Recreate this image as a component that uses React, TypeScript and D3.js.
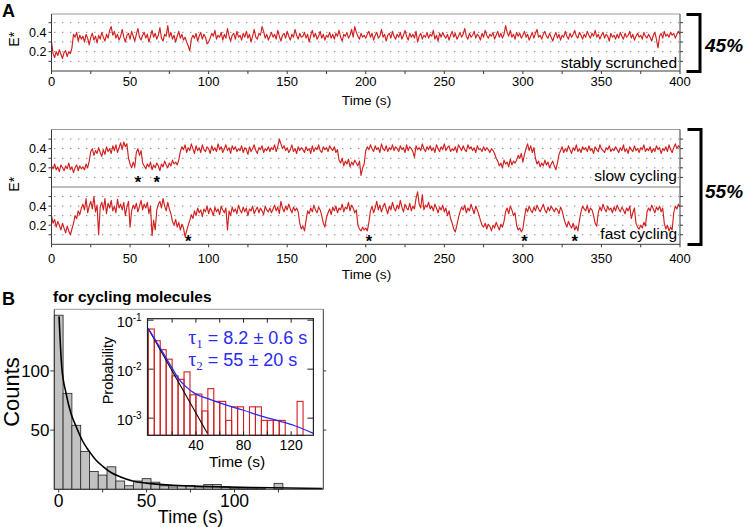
import React from "react";
import * as d3 from "d3";

const SANS = "'Liberation Sans', Arial, Helvetica, sans-serif";
const SERIF = "'Liberation Serif', 'Times New Roman', serif";

// ---------- Panel A data: E* x 100, one value per second (t = 0..400 s) ----------
const stableTrace = [
  30,18,14,20,16,22,17,13,19,21,15,20,18,24,38,35,40,31,37,33,
  36,30,38,34,27,35,39,32,36,29,37,33,40,35,31,38,34,42,46,37,
  41,34,38,32,36,43,35,30,37,39,33,41,36,31,38,44,35,32,37,40,
  34,38,30,36,42,35,39,33,37,45,34,31,38,36,47,35,40,33,37,30,
  36,41,34,38,32,35,30,26,21,33,37,34,39,31,36,40,33,38,35,28,
  30,34,39,36,42,33,37,35,40,32,38,34,44,36,31,37,39,33,41,35,
  37,32,39,35,41,34,38,30,36,43,35,33,39,37,46,41,34,38,32,36,
  40,35,38,33,42,36,31,37,39,34,41,36,32,38,35,43,37,33,39,35,
  36,40,34,38,30,37,42,35,39,33,36,41,34,38,32,37,35,40,34,38,
  33,39,36,42,35,31,38,36,40,34,37,43,35,46,40,36,33,39,35,37,
  34,38,41,35,39,32,37,40,34,36,43,35,38,31,37,39,34,41,36,33,
  38,35,40,33,37,42,36,32,39,35,38,34,41,30,36,39,33,37,35,40,
  34,38,36,42,33,37,31,39,35,40,36,34,38,32,37,41,35,39,33,36,
  40,35,38,44,36,33,39,35,37,41,34,38,36,32,39,35,42,37,34,38,
  36,40,33,37,41,35,39,34,38,47,40,36,42,35,38,33,40,36,39,34,
  37,41,35,38,32,36,40,34,39,43,35,37,33,38,41,36,34,39,35,31,
  36,40,34,38,32,37,35,41,36,33,39,35,38,42,36,34,40,37,33,38,
  35,41,37,34,39,36,42,35,38,33,37,40,34,38,36,31,39,35,37,33,
  38,34,40,36,33,39,35,37,41,34,38,32,36,39,35,37,33,40,36,34,
  38,35,31,37,40,33,24,36,39,34,41,36,38,35,40,37,39,34,38,41,
  38
];
const slowTrace = [
  22,19,24,18,21,16,23,20,17,22,19,25,18,21,15,20,23,17,22,19,
  21,18,24,20,27,37,40,33,38,35,41,36,32,39,34,42,37,40,35,43,
  38,44,36,41,46,39,47,42,45,30,24,20,26,21,36,40,33,38,25,22,
  19,24,21,26,18,23,20,25,22,17,24,21,27,23,20,25,22,28,24,26,
  23,28,37,42,39,44,36,41,38,45,40,35,43,38,41,36,44,39,37,42,
  40,35,43,38,41,37,45,39,42,36,40,44,38,41,35,43,39,42,37,40,
  38,43,36,41,39,34,42,37,40,44,38,35,41,39,43,36,40,38,42,37,
  41,39,44,37,42,50,45,40,43,38,41,36,39,44,37,40,35,42,38,41,
  39,36,42,38,40,35,43,37,41,39,44,38,36,42,39,41,37,43,40,38,
  42,36,39,28,25,30,22,27,24,29,21,26,23,28,25,22,27,12,20,24,
  38,42,39,44,40,37,43,39,41,36,45,40,38,43,37,41,39,44,38,42,
  40,37,43,39,41,36,44,38,42,40,37,31,43,39,41,38,45,40,37,42,
  39,43,38,41,36,44,40,37,42,39,45,38,41,43,37,40,38,42,36,44,
  41,38,43,39,37,44,40,42,38,41,36,43,39,40,37,42,38,41,39,36,
  40,38,35,30,27,22,25,20,28,24,26,21,29,23,27,25,28,33,30,35,
  26,34,40,45,38,43,36,41,30,24,27,21,25,22,28,23,26,20,24,27,
  22,18,25,34,38,42,36,40,37,43,39,35,41,38,44,37,40,36,42,39,
  41,37,43,38,40,35,42,39,37,44,40,38,36,41,39,43,37,40,38,42,
  39,36,41,38,44,37,40,35,42,39,37,43,38,40,36,41,39,44,37,40,
  38,42,36,40,37,43,39,41,35,40,38,42,37,44,39,36,41,45,40,43,
  41
];
const fastTrace = [
  30,22,26,18,24,20,15,22,17,12,19,14,10,16,22,30,27,35,31,38,
  42,36,48,33,40,45,37,50,34,41,10,39,44,36,48,32,43,38,46,35,
  40,33,47,38,42,36,44,30,39,45,18,35,41,37,43,34,40,46,36,42,
  38,44,32,40,9,25,15,36,42,45,38,48,40,35,44,37,32,24,20,26,
  18,23,15,21,17,8,14,20,25,31,27,35,30,38,33,36,29,37,34,40,
  32,38,35,30,39,34,37,31,40,36,33,38,15,35,30,39,34,37,32,41,
  36,33,39,34,38,30,37,35,40,32,36,39,33,38,35,31,40,36,34,38,
  33,37,41,35,39,32,45,38,34,40,36,42,37,33,39,35,38,34,22,16,
  19,14,25,35,32,38,34,41,36,33,39,36,30,22,18,28,33,37,31,39,
  35,40,33,38,36,42,34,39,37,44,35,41,38,33,36,20,16,14,18,15,
  17,14,23,35,40,33,38,45,36,41,34,39,43,37,32,40,36,44,38,35,
  41,37,46,39,34,42,38,36,43,35,40,37,48,55,42,38,52,36,41,39,
  44,37,40,35,42,38,33,39,36,41,34,38,30,35,27,22,16,13,20,28,
  34,39,36,41,33,38,35,42,37,32,40,36,31,25,20,18,22,16,21,19,
  14,20,17,23,19,15,21,18,24,34,38,32,40,36,30,33,20,15,17,13,
  16,28,38,34,40,36,33,39,35,41,37,34,38,42,36,33,39,35,40,37,
  34,38,36,32,39,35,28,22,18,24,20,17,22,15,19,14,25,34,40,37,
  35,41,33,38,36,30,22,19,33,39,35,42,37,34,40,36,38,33,39,35,
  41,37,34,39,36,32,38,35,40,27,33,38,22,18,16,20,17,23,19,34,
  38,35,41,37,33,39,36,40,34,38,22,16,20,14,18,15,33,40,37,42,
  39
];
const slowStars = [55, 67];
const fastStars = [87, 202, 301, 333];
const timeLabels = [0, 50, 100, 150, 200, 250, 300, 350, 400];
const timeMinor = [25, 75, 125, 175, 225, 275, 325, 375];
const eLabels = [20, 40];
const eGrid = [10, 20, 30, 40, 50];

// ---------- Panel B data ----------
const histCenters = [0,5,10,15,20,25,30,35,40,45,50,55,60,65,70,75,80,85,90,95,100,105,110,115,120,125,130,135,140,145];
const histCounts = [147,81,54,32,15,12,19,7,3,7,9,6,3,2,3,3,2,4,4,2,1,1,1,1,0,5,0,0,0,0];
const histFit: [number, number][] = [
  [0.2,146],[1.7,104],[4.2,81],[7,64],[9.9,53],[13.5,41],[17.4,32],[21,25],[25.4,19],
  [30,14],[34.9,10.6],[42,7],[50,5.2],[65,3.4],[85,2.3],[110,1.5],[150,0.7]
];
const histXLabels = [0, 50, 100];
const histXMinor = [25, 75, 125];
const histYLabels = [50, 100];

const insetBinStarts = [0,5,10,15,20,25,30,35,40,45,50,55,60,65,70,75,80,85,90,95,100,105,110,115,120,125,130];
const insetProb = [0.066,0.038,0.025,0.016,0.0073,0.0062,0.0088,0.0030,0.0031,0.0014,0.0040,0.0022,0.0022,0.0009,0.0017,0.0017,0,0.0017,0.0017,0.0009,0.0009,0.0009,0.0009,0,0,0.0022,0];
const blueFit: [number, number][] = [
  [0,0.067],[4,0.047],[8.5,0.031],[14,0.0185],[20,0.0105],[25,0.0066],[32,0.0043],
  [39,0.0032],[50,0.0025],[67,0.0018],[80,0.00145],[95,0.0011],[110,0.00087],[123,0.0007],[138.7,0.00049]
];
const blackFit: [number, number][] = [[0,0.067],[49.6,0.00049]];
const insetXLabels = [40, 80, 120];
const insetXMinor = [20, 60, 100];
const insetYTicks = [1e-1, 1e-2, 1e-3];
const insetYExp = ["-1", "-2", "-3"];

// ---------- styling ----------
const AXIS = "#3a3a3a";
const FRAME = "#9a9a9a";
const RED = "#d21f1f";
const BLUE = "#2b2bf0";

// ---------- scales ----------
const xA = d3.scaleLinear().domain([0, 400]).range([51.5, 680]);
const yStable = d3.scaleLinear().domain([0, 59]).range([71, 14]);
const ySlow = d3.scaleLinear().domain([0, 60]).range([187, 129.5]);
const yFast = d3.scaleLinear().domain([0, 60]).range([244.3, 187]);

const xH = d3.scaleLinear().domain([-2.5, 150.5]).range([54.3, 323.3]);
const yH = d3.scaleLinear().domain([0, 152]).range([489.3, 309.3]);

const xI = d3.scaleLinear().domain([-0.7, 138.7]).range([147.5, 313.4]);
const yI = d3.scaleLog().domain([Math.pow(10, -3.35), Math.pow(10, -0.97)]).range([435.3, 318.7]);

function SubPanel({ id, data, y }: { id: string; data: number[]; y: d3.ScaleLinear<number, number> }) {
  const [y0, y1] = y.range();
  const line = d3.line<number>().x((_, i) => xA(i)).y((d) => y(d));
  return (
    <g>
      <clipPath id={id}>
        <rect x={xA(0)} y={y1} width={xA(400) - xA(0)} height={y0 - y1} />
      </clipPath>
      {eGrid.map((g) => (
        <line key={g} x1={xA(0) + 2.8} x2={xA(400) - 1} y1={y(g)} y2={y(g)}
          stroke="#555" strokeWidth={1} strokeDasharray="1 7" />
      ))}
      <path d={line(data) || ""} fill="none" stroke={RED} strokeWidth={1.15}
        strokeLinejoin="round" clipPath={`url(#${id})`} />
      {eGrid.map((g) => (
        <g key={g}>
          <line x1={xA(0) - 3} x2={xA(0)} y1={y(g)} y2={y(g)} stroke={AXIS} />
          <line x1={xA(400)} x2={xA(400) + 3} y1={y(g)} y2={y(g)} stroke={AXIS} />
        </g>
      ))}
      {eLabels.map((v) => (
        <text key={v} x={46.5} y={y(v)} dy="0.36em" textAnchor="end" fontSize={12.5}>
          {(v / 100).toFixed(1)}
        </text>
      ))}
    </g>
  );
}

function TimeAxis({ yPos, labelY, titleY }: { yPos: number; labelY: number; titleY: number }) {
  return (
    <g>
      <line x1={xA(0)} x2={xA(400)} y1={yPos} y2={yPos} stroke={AXIS} />
      {[...timeLabels, ...timeMinor].map((t) => (
        <line key={t} x1={xA(t)} x2={xA(t)} y1={yPos} y2={yPos + 3} stroke={AXIS} />
      ))}
      {timeLabels.map((t) => (
        <text key={t} x={xA(t)} y={labelY} textAnchor="middle" fontSize={13}>{t}</text>
      ))}
      <text x={366.5} y={titleY} textAnchor="middle" fontSize={13.6}>Time (s)</text>
    </g>
  );
}

export default function App() {
  const fitLine = d3.line<[number, number]>().x((d) => xH(d[0])).y((d) => yH(d[1])).curve(d3.curveMonotoneX);
  const insetLine = d3.line<[number, number]>().x((d) => xI(d[0])).y((d) => yI(d[1])).curve(d3.curveMonotoneX);
  const [iy0, iy1] = yI.range();
  const [ix0, ix1] = xI.range();

  return (
    <svg width={744} height={527} viewBox="0 0 744 527"
      style={{ position: "absolute", left: 0, top: 0, display: "block" }}
      fontFamily={SANS}>
      <rect x={0} y={0} width={744} height={527} fill="#fff" />

      {/* ================= Panel A ================= */}
      <text x={2} y={16.5} fontSize={18} fontWeight="bold">A</text>

      {/* stably scrunched */}
      <SubPanel id="clipStable" data={stableTrace} y={yStable} />
      <line x1={xA(0)} x2={xA(400)} y1={14} y2={14} stroke={FRAME} />
      <line x1={xA(0)} x2={xA(0)} y1={14} y2={71} stroke={AXIS} />
      <line x1={xA(400)} x2={xA(400)} y1={14} y2={71} stroke={AXIS} />
      <TimeAxis yPos={71} labelY={86} titleY={105} />
      <text x={677} y={68} textAnchor="end" fontSize={15.5}>stably scrunched</text>
      <text transform="translate(19.3,46.7) rotate(-90)" fontSize={14}>E*</text>
      <path d="M686.5,14.5 H700 V71.5 H686.5" fill="none" stroke="#000" strokeWidth={3} />
      <text x={705} y={51.5} fontSize={19} fontWeight="bold" fontStyle="italic">45%</text>

      {/* slow / fast cycling */}
      <SubPanel id="clipSlow" data={slowTrace} y={ySlow} />
      <SubPanel id="clipFast" data={fastTrace} y={yFast} />
      <line x1={xA(0)} x2={xA(400)} y1={129.5} y2={129.5} stroke={FRAME} />
      <line x1={xA(0)} x2={xA(400)} y1={187} y2={187} stroke="#7d7d7d" />
      <line x1={xA(0)} x2={xA(0)} y1={129.5} y2={244.3} stroke={AXIS} />
      <line x1={xA(400)} x2={xA(400)} y1={129.5} y2={244.3} stroke={AXIS} />
      <TimeAxis yPos={244.3} labelY={262.5} titleY={278.5} />
      <text x={677} y={181} textAnchor="end" fontSize={15.5}>slow cycling</text>
      <text x={677} y={239} textAnchor="end" fontSize={15.5}>fast cycling</text>
      {slowStars.map((t) => (
        <text key={t} x={xA(t)} y={188.3} textAnchor="middle" fontSize={16.5} fontWeight="bold">*</text>
      ))}
      {fastStars.map((t) => (
        <text key={t} x={xA(t)} y={246.8} textAnchor="middle" fontSize={16.5} fontWeight="bold">*</text>
      ))}
      <text transform="translate(19.3,191.7) rotate(-90)" fontSize={14}>E*</text>
      <path d="M687.5,129.5 H701 V244.5 H687.5" fill="none" stroke="#000" strokeWidth={3} />
      <text x={705} y={198} fontSize={19} fontWeight="bold" fontStyle="italic">55%</text>

      {/* ================= Panel B ================= */}
      <text x={2} y={304.5} fontSize={18} fontWeight="bold">B</text>
      <text x={53} y={301.5} fontSize={15.5} fontWeight="bold">for cycling molecules</text>

      {histCenters.map((c, i) =>
        histCounts[i] > 0 ? (
          <rect key={c} x={xH(c - 2.5)} y={yH(histCounts[i])} width={xH(c + 2.5) - xH(c - 2.5)}
            height={yH(0) - yH(histCounts[i])} fill="#c2c2c2" stroke="#333" strokeWidth={0.9} />
        ) : null
      )}
      <path d={fitLine(histFit) || ""} fill="none" stroke="#000" strokeWidth={1.6} />

      <line x1={xH(-2.5)} x2={xH(150.5)} y1={309.3} y2={309.3} stroke={FRAME} />
      <line x1={xH(-2.5)} x2={xH(-2.5)} y1={309.3} y2={489.3} stroke={AXIS} />
      <line x1={xH(150.5)} x2={xH(150.5)} y1={309.3} y2={489.3} stroke={AXIS} />
      <line x1={xH(-2.5)} x2={xH(150.5)} y1={489.3} y2={489.3} stroke={AXIS} />
      {histYLabels.map((v) => (
        <g key={v}>
          <line x1={xH(-2.5) - 4} x2={xH(-2.5)} y1={yH(v)} y2={yH(v)} stroke={AXIS} />
          <line x1={xH(150.5)} x2={xH(150.5) + 3} y1={yH(v)} y2={yH(v)} stroke={AXIS} />
          <text x={49.5} y={yH(v)} dy="0.36em" textAnchor="end" fontSize={17}>{v}</text>
        </g>
      ))}
      {[...histXLabels, ...histXMinor].map((t) => (
        <line key={t} x1={xH(t)} x2={xH(t)} y1={489.3} y2={492.5} stroke={AXIS} />
      ))}
      {histXLabels.map((t) => (
        <text key={t} x={xH(t)} y={506.5} textAnchor="middle" fontSize={17.5}>{t}</text>
      ))}
      <text x={190.5} y={522.5} textAnchor="middle" fontSize={18}>Time (s)</text>
      <text transform="translate(18.5,392) rotate(-90)" textAnchor="middle" fontSize={22}>Counts</text>

      {/* inset */}
      <clipPath id="clipInset">
        <rect x={ix0} y={iy1} width={ix1 - ix0} height={iy0 - iy1} />
      </clipPath>
      <rect x={ix0} y={iy1} width={ix1 - ix0} height={iy0 - iy1} fill="#fff" />
      {insetBinStarts.map((s, i) =>
        insetProb[i] > 0 ? (
          <rect key={s} x={xI(s)} y={yI(insetProb[i])} width={xI(s + 5) - xI(s)}
            height={iy0 - yI(insetProb[i])} fill="none" stroke={RED} strokeWidth={1.1} />
        ) : null
      )}
      <g clipPath="url(#clipInset)">
        <path d={insetLine(blackFit) || ""} fill="none" stroke="#000" strokeWidth={1.1} />
        <path d={insetLine(blueFit) || ""} fill="none" stroke={BLUE} strokeWidth={1.3} />
      </g>
      <rect x={ix0} y={iy1} width={ix1 - ix0} height={iy0 - iy1} fill="none" stroke="#222" strokeWidth={1.2} />
      {insetYTicks.map((v, i) => (
        <g key={v}>
          <line x1={ix0} x2={ix0 + 6} y1={yI(v)} y2={yI(v)} stroke="#222" />
          <line x1={ix1 - 6} x2={ix1} y1={yI(v)} y2={yI(v)} stroke="#222" />
          <text x={141.7} y={yI(v) + 7} textAnchor="end" fontSize={14.5}>
            10<tspan dy={-6} fontSize={10}>{insetYExp[i]}</tspan>
          </text>
        </g>
      ))}
      {[...insetXLabels, ...insetXMinor].map((t) => (
        <g key={t}>
          <line x1={xI(t)} x2={xI(t)} y1={iy0} y2={iy0 - 4} stroke="#222" />
          <line x1={xI(t)} x2={xI(t)} y1={iy1} y2={iy1 + 4} stroke="#222" />
        </g>
      ))}
      {insetXLabels.map((t) => (
        <text key={t} x={xI(t)} y={449.6} textAnchor="middle" fontSize={14}>{t}</text>
      ))}
      <text x={237} y={467} textAnchor="middle" fontSize={15.5}>Time (s)</text>
      <text transform="translate(112.5,370.5) rotate(-90)" textAnchor="middle" fontSize={14.5}>Probability</text>

      <text x={188.3} y={344.3} fill={BLUE} fontSize={18}>
        <tspan fontFamily={SERIF} fontSize={20}>τ</tspan>
        <tspan fontFamily={SERIF} fontSize={13} dy={4}>1</tspan>
        <tspan dy={-4}>{" = 8.2 ± 0.6 s"}</tspan>
      </text>
      <text x={188.3} y={366} fill={BLUE} fontSize={18}>
        <tspan fontFamily={SERIF} fontSize={20}>τ</tspan>
        <tspan fontFamily={SERIF} fontSize={13} dy={4}>2</tspan>
        <tspan dy={-4}>{" = 55 ± 20 s"}</tspan>
      </text>
    </svg>
  );
}
